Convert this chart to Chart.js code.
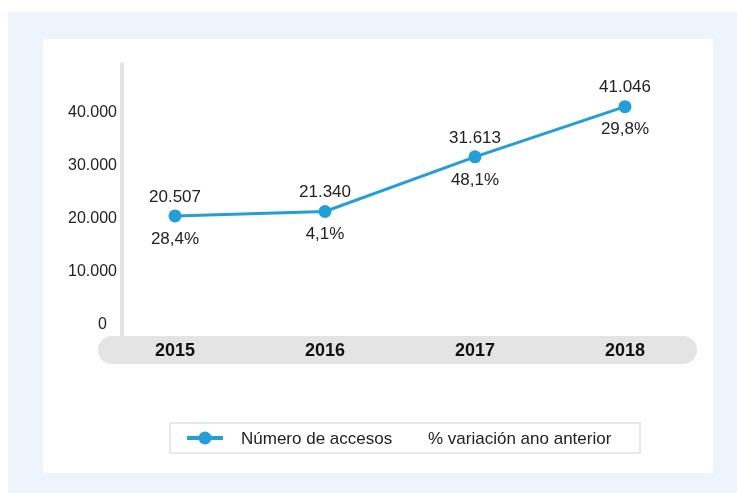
<!DOCTYPE html>
<html>
<head>
<meta charset="utf-8">
<script src="https://cdn.jsdelivr.net/npm/chart.js@4"></script>
<style>
  body { margin: 0; background: #fff; font-family: "Liberation Sans", Arial, sans-serif; }
  #outer { position: absolute; left: 8px; top: 12px; width: 729px; height: 481px; background: #edf4fc; }
  #myChart { position: absolute; left: 43px; top: 39px; background: #fff; }
</style>
</head>
<body>
<div id="outer"></div>
<canvas id="myChart" width="670" height="434"></canvas>
<script>
const years = ['2015', '2016', '2017', '2018']
const accesos = [20507, 21340, 31613, 41046]
const variacion = [28.4, 4.1, 48.1, 29.8]
const yTicks = [0, 10000, 20000, 30000, 40000]
const seriesNames = ['Número de accesos', '% variación ano anterior']

const BLUE = '#229fd9'
const GREY = '#e4e4e4'
const FONT = '"Liberation Sans", Arial, sans-serif'

let thousands = (v) => String(v).replace(/\B(?=(\d{3})+(?!\d))/g, '.')
let pct = (v) => v.toFixed(1).replace('.', ',') + '%'

// background pieces, axis labels, value labels and the legend are drawn here
const decor = {
  id: 'decor',
  beforeDraw(chart) {
    let { ctx, chartArea: a, scales: { y } } = chart
    ctx.save()
    // rounded grey bar behind the years
    let top = a.bottom + 11, h = 28, left = a.left - 2, right = a.right - 3, r = h / 2
    ctx.fillStyle = GREY
    ctx.beginPath()
    ctx.moveTo(left + r, top)
    ctx.lineTo(right - r, top)
    ctx.arc(right - r, top + r, r, -Math.PI / 2, Math.PI / 2)
    ctx.lineTo(left + r, top + h)
    ctx.arc(left + r, top + r, r, Math.PI / 2, Math.PI * 1.5)
    ctx.fill()
    // vertical axis line
    ctx.strokeStyle = GREY
    ctx.lineWidth = 4
    ctx.lineCap = 'round'
    ctx.beginPath()
    ctx.moveTo(a.left + 22, y.getPixelForValue(49000))
    ctx.lineTo(a.left + 22, top + 2)
    ctx.stroke()
    // y tick labels, placed with the y scale
    ctx.fillStyle = '#222'
    ctx.font = '16px ' + FONT
    ctx.textAlign = 'right'
    ctx.textBaseline = 'middle'
    yTicks.forEach(v => {
      let tx = v === 0 ? a.left + 7 : a.left + 17
      ctx.fillText(thousands(v), tx, y.getPixelForValue(v))
    })
    ctx.restore()
  },
  afterDatasetsDraw(chart) {
    let ctx = chart.ctx
    let pts = chart.getDatasetMeta(0).data
    ctx.save()
    ctx.fillStyle = '#222'
    ctx.font = '17px ' + FONT
    ctx.textAlign = 'center'
    ctx.textBaseline = 'middle'
    pts.forEach((p, i) => {
      ctx.fillText(thousands(accesos[i]), p.x, p.y - 19)
      ctx.fillText(pct(variacion[i]), p.x, p.y + 23)
    })
    ctx.restore()
  },
  afterDraw(chart) {
    let { ctx, chartArea: a } = chart
    let bw = 470, bh = 30
    let bx = (a.left + a.right) / 2 + 5 - bw / 2
    let by = a.bottom + 98
    let cy = by + bh / 2
    ctx.save()
    ctx.strokeStyle = '#e8e8e8'
    ctx.lineWidth = 2
    ctx.strokeRect(bx, by, bw, bh)
    ctx.strokeStyle = BLUE
    ctx.lineWidth = 4
    ctx.beginPath()
    ctx.moveTo(bx + 17, cy)
    ctx.lineTo(bx + 53, cy)
    ctx.stroke()
    ctx.fillStyle = BLUE
    ctx.beginPath()
    ctx.arc(bx + 35, cy, 6.5, 0, Math.PI * 2)
    ctx.fill()
    ctx.fillStyle = '#222'
    ctx.font = '17px ' + FONT
    ctx.textBaseline = 'middle'
    ctx.fillText(seriesNames[0], bx + 71, cy + 1)
    ctx.fillText(seriesNames[1], bx + 258, cy + 1)
    ctx.restore()
  }
}

new Chart(document.getElementById('myChart'), {
  type: 'line',
  data: {
    labels: years,
    datasets: [{
      label: seriesNames[0],
      data: accesos,
      borderColor: BLUE,
      backgroundColor: BLUE,
      borderWidth: 3,
      pointRadius: 6.5,
      pointBorderWidth: 0,
      fill: false,
      tension: 0
    }]
  },
  options: {
    responsive: false,
    animation: false,
    layout: { padding: { top: 20, right: 13, left: 0, bottom: 0 } },
    plugins: { legend: { display: false }, tooltip: { enabled: false } },
    scales: {
      x: {
        offset: true,
        grid: { display: false, drawTicks: false },
        border: { display: false },
        ticks: { color: '#111', font: { family: FONT, size: 18, weight: 'bold' }, padding: 15 },
        afterFit: (s) => { s.height = 148 }
      },
      y: {
        min: 0,
        max: 50000,
        grid: { display: false, drawTicks: false },
        border: { display: false },
        ticks: { display: false },
        afterFit: (s) => { s.width = 57 }
      }
    }
  },
  plugins: [decor]
})
</script>
</body>
</html>
